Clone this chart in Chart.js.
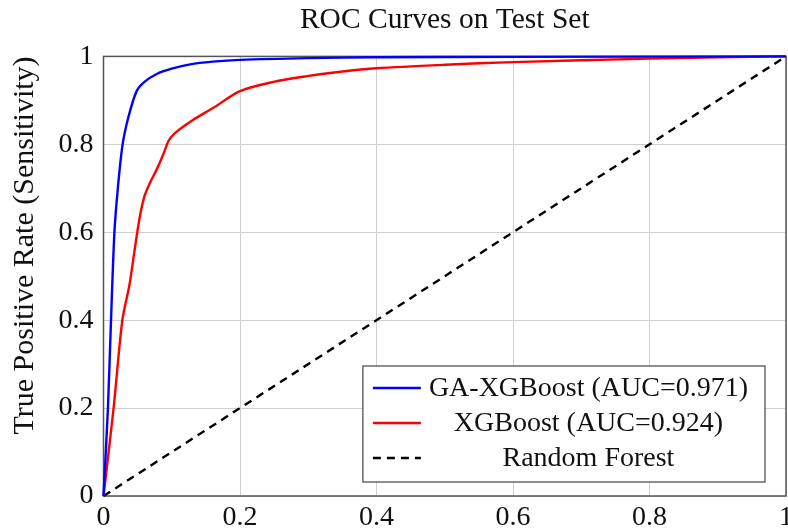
<!DOCTYPE html>
<html>
<head>
<meta charset="utf-8">
<script src="https://cdn.jsdelivr.net/npm/chart.js@4.4.1/dist/chart.umd.min.js"></script>
<style>
  body { margin: 0; background: #fff; }
  #rocChart { display: block; }
</style>
</head>
<body>
<canvas id="rocChart" width="788" height="529"></canvas>
<script>
// values (false positive rate -> true positive rate)
var gaFpr = [0, 0.0065, 0.011, 0.016, 0.021, 0.028, 0.037, 0.0486, 0.06, 0.078, 0.1, 0.127, 0.16, 0.2, 0.3, 0.4, 0.6, 1];
var gaTpr = [0, 0.2, 0.4, 0.6, 0.7, 0.8, 0.865, 0.921, 0.942, 0.96, 0.972, 0.982, 0.988, 0.992, 0.996, 0.998, 0.999, 1];

var xgbFpr = [0, 0.0148, 0.0276, 0.038, 0.045, 0.0525, 0.06, 0.068, 0.078, 0.0886, 0.095, 0.105, 0.1316, 0.161, 0.2, 0.249, 0.298, 0.347, 0.4, 0.5, 0.6, 0.8, 1];
var xgbTpr = [0, 0.2, 0.4, 0.48, 0.553, 0.629, 0.682, 0.712, 0.743, 0.781, 0.807, 0.826, 0.856, 0.883, 0.921, 0.942, 0.955, 0.965, 0.973, 0.981, 0.987, 0.995, 1];

var rfFpr = [0, 1];
var rfTpr = [0, 1];

var seriesNames = ['GA-XGBoost (AUC=0.971)', 'XGBoost (AUC=0.924)', 'Random Forest'];
var xTickLabels = ['0', '0.2', '0.4', '0.6', '0.8', '1'];
var yTickLabels = ['0', '0.2', '0.4', '0.6', '0.8', '1'];

function toPoints(xs, ys) {
    return xs.map(function (x, i) { return { x: x, y: ys[i] }; });
}

var serif = "'Liberation Serif', 'Times New Roman', serif";

// frame around the plot area (pgfplots style box)
var framePlugin = {
    id: 'frame',
    beforeDatasetsDraw: function (chart) {
        var a = chart.chartArea, ctx = chart.ctx;
        ctx.save();
        ctx.strokeStyle = '#555';
        ctx.lineWidth = 1.5;
        ctx.strokeRect(a.left, a.top, a.right - a.left, a.bottom - a.top);
        ctx.restore();
    }
};

// legend box inside the plot, bottom right, entries centred
var boxLegend = {
    id: 'boxLegend',
    afterDraw: function (chart) {
        var a = chart.chartArea, ctx = chart.ctx;
        var sets = chart.data.datasets;
        ctx.save();
        ctx.font = '28px ' + serif;
        var maxW = 0;
        sets.forEach(function (d) { maxW = Math.max(maxW, ctx.measureText(d.label).width); });
        var w = 83 + maxW, h = 116;
        var left = a.right - 21 - w, top = a.bottom - 14 - h;
        ctx.fillStyle = '#fff';
        ctx.fillRect(left, top, w, h);
        ctx.strokeStyle = '#444';
        ctx.lineWidth = 1.2;
        ctx.strokeRect(left, top, w, h);
        sets.forEach(function (d, i) {
            var cy = top + 22 + i * 35;
            ctx.beginPath();
            ctx.strokeStyle = d.borderColor;
            ctx.lineWidth = d.borderWidth;
            ctx.setLineDash(d.borderDash || []);
            ctx.moveTo(left + 10, cy);
            ctx.lineTo(left + 58, cy);
            ctx.stroke();
            ctx.setLineDash([]);
            ctx.fillStyle = '#111';
            ctx.textAlign = 'center';
            ctx.textBaseline = 'middle';
            ctx.fillText(d.label, left + 66 + maxW / 2, cy + 1);
        });
        ctx.restore();
    }
};

var ctx = document.getElementById('rocChart').getContext('2d');
var myChart = new Chart(ctx, {
    type: 'line',
    data: {
        datasets: [{
            label: seriesNames[0],
            data: toPoints(gaFpr, gaTpr),
            borderColor: '#0000ff',
            borderWidth: 2.4,
            pointRadius: 0,
            tension: 0.3,
            fill: false,
            clip: false
        }, {
            label: seriesNames[1],
            data: toPoints(xgbFpr, xgbTpr),
            borderColor: '#ff0000',
            borderWidth: 2.4,
            pointRadius: 0,
            tension: 0.3,
            fill: false,
            clip: false
        }, {
            label: seriesNames[2],
            data: toPoints(rfFpr, rfTpr),
            borderColor: '#000',
            borderWidth: 2.4,
            borderDash: [8, 6],
            pointRadius: 0,
            fill: false,
            clip: false
        }]
    },
    options: {
        responsive: false,
        animation: false,
        layout: { padding: { left: 0, right: 2, top: 0, bottom: 0 } },
        plugins: {
            legend: { display: false },
            tooltip: { enabled: false },
            title: {
                display: true,
                fullSize: false,
                text: 'ROC Curves on Test Set',
                color: '#111',
                font: { family: serif, size: 29.5, weight: 'normal' },
                padding: { top: 3, bottom: 18 }
            }
        },
        scales: {
            x: {
                type: 'linear',
                position: 'bottom',
                min: 0,
                max: 1,
                border: { display: false },
                grid: { color: '#cfcfcf', lineWidth: 1, drawTicks: false },
                ticks: {
                    stepSize: 0.2,
                    padding: 5,
                    color: '#111',
                    maxRotation: 0,
                    font: { family: serif, size: 28 },
                    callback: function (v, i) { return xTickLabels[i]; }
                },
                afterFit: function (scale) {
                    scale.height = 33;
                    scale.paddingLeft = 0;
                    scale.paddingRight = 0;
                }
            },
            y: {
                type: 'linear',
                min: 0,
                max: 1,
                border: { display: false },
                grid: { color: '#cfcfcf', lineWidth: 1, drawTicks: false },
                title: {
                    display: true,
                    text: 'True Positive Rate (Sensitivity)',
                    align: 'end',
                    color: '#111',
                    font: { family: serif, size: 30 },
                    padding: { top: 7, bottom: 0 }
                },
                ticks: {
                    stepSize: 0.2,
                    padding: 10,
                    color: '#111',
                    font: { family: serif, size: 28 },
                    callback: function (v, i) { return yTickLabels[i]; }
                },
                afterFit: function (scale) {
                    scale.width = 103.5;
                    scale.paddingTop = 0;
                    scale.paddingBottom = 0;
                }
            }
        }
    },
    plugins: [framePlugin, boxLegend]
});
</script>
</body>
</html>
